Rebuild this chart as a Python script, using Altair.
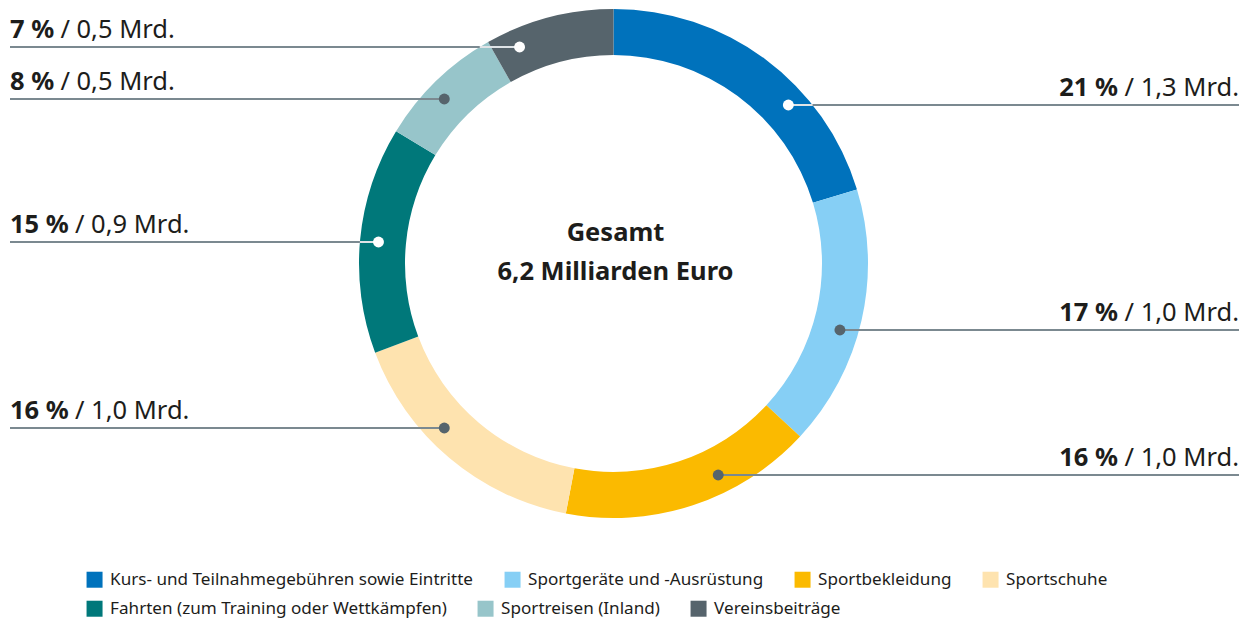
import math
import altair as alt
import pandas as pd

# ---------------- data ----------------
categories = [
    "Kurs- und Teilnahmegebühren sowie Eintritte",
    "Sportgeräte und -Ausrüstung",
    "Sportbekleidung",
    "Sportschuhe",
    "Fahrten (zum Training oder Wettkämpfen)",
    "Sportreisen (Inland)",
    "Vereinsbeiträge",
]
# slice sizes as read from the ring (degrees -> %)
shares = [20.3, 16.6, 16.1, 16.3, 14.4, 8.1, 8.2]
pct_labels = ["21 %", "17 %", "16 %", "16 %", "15 %", "8 %", "7 %"]
mrd_labels = ["1,3", "1,0", "1,0", "1,0", "0,9", "0,5", "0,5"]
colors = ["#0072BC", "#86CFF5", "#FBBA00", "#FEE3AF", "#00787A", "#97C5CA", "#56646C"]
center_text = "Gesamt\n6,2 Milliarden Euro"

# ---------------- layout ----------------
W, H = 1233, 614
CX, CY = 605.5, 255.5
R_OUT, R_IN, R_DOT = 254.5, 208.5, 236.0
leader_y = [97, 322, 467, 420, 234, 91, 39]
side = ["right", "right", "right", "left", "left", "left", "left"]
dark_slice = [True, False, False, False, True, False, True]
LEFT_X, RIGHT_X = 2, 1231
FS = 25.5
LINE = "#7b8990"
DOT_DARK = "#56646C"
TEXT = "#1d1d1b"
FONT = "Noto Sans"

total = sum(shares)
rows = []
acc = 0.0
for i, c in enumerate(categories):
    start, end = acc, acc + shares[i]
    acc = end
    ly = leader_y[i]
    dy = ly - CY
    sgn = 1 if side[i] == "right" else -1
    dot_x = CX + sgn * math.sqrt(max(R_DOT ** 2 - dy ** 2, 0))
    ring_x = CX + sgn * math.sqrt(max(R_OUT ** 2 - dy ** 2, 0))
    end_x = RIGHT_X if sgn > 0 else LEFT_X
    ndig = len(pct_labels[i].split(" ")[0])
    bold_w = (0.572 * ndig + 0.26 + 0.87) * FS
    norm_w = 4.47 * FS
    rows.append(dict(
        cat=c, start=start, end=end, ly=ly, dot_x=dot_x, ring_x=ring_x, end_x=end_x,
        side=side[i],
        dot_col="#ffffff" if dark_slice[i] else DOT_DARK,
        seg_col="#dfe4e7" if dark_slice[i] else LINE,
        pct=pct_labels[i], norm="/ " + mrd_labels[i] + " Mrd.",
        bold_x=(RIGHT_X - norm_w - 7) if sgn > 0 else LEFT_X,
        norm_x=RIGHT_X if sgn > 0 else LEFT_X + bold_w + 7,
    ))
df = pd.DataFrame(rows)

xs = alt.Scale(domain=[0, W], nice=False, zero=False)
ys = alt.Scale(domain=[0, H], nice=False, zero=False, reverse=True)
ts = alt.Scale(domain=[0, total], range=[0, 2 * math.pi])


def legend(y):
    return alt.Legend(
        orient="none", legendX=78, legendY=y, direction="horizontal", title=None,
        symbolType="square", symbolSize=256, symbolStrokeWidth=0, labelFont=FONT,
        labelFontSize=17.1, labelColor=TEXT, labelOffset=7, columnPadding=30,
        labelLimit=600, padding=0,
    )


def arcs(part, dom, rng, ly):
    return alt.Chart(part).mark_arc(innerRadius=R_IN, outerRadius=R_OUT).encode(
        x=alt.value(CX), y=alt.value(CY),
        theta=alt.Theta("start:Q", scale=ts, stack=None),
        theta2="end:Q",
        color=alt.Color("cat:N", scale=alt.Scale(domain=dom, range=rng), legend=legend(ly)),
    )


arcs1 = arcs(df.iloc[:4], categories[:4], colors[:4], 563)
arcs2 = arcs(df.iloc[4:], categories[4:], colors[4:], 592)

base = alt.Chart(df)
lines = base.mark_rule(color=LINE, strokeWidth=2).encode(
    x=alt.X("dot_x:Q", scale=xs, axis=None), x2="end_x:Q",
    y=alt.Y("ly:Q", scale=ys, axis=None),
)
inner = base.mark_rule(strokeWidth=2).encode(
    x=alt.X("dot_x:Q", scale=xs, axis=None), x2="ring_x:Q",
    y=alt.Y("ly:Q", scale=ys, axis=None),
    stroke=alt.Stroke("seg_col:N", scale=None),
)
dots = base.mark_point(filled=True, size=120, opacity=1, strokeWidth=0).encode(
    x=alt.X("dot_x:Q", scale=xs, axis=None),
    y=alt.Y("ly:Q", scale=ys, axis=None),
    fill=alt.Fill("dot_col:N", scale=None),
)

right = base.transform_filter(alt.datum.side == "right")
left = base.transform_filter(alt.datum.side == "left")

def txt(src, field, xf, align, weight):
    return src.mark_text(align=align, baseline="alphabetic", dy=-9, font=FONT,
                         fontSize=FS, fontWeight=weight, color=TEXT).encode(
        x=alt.X(xf + ":Q", scale=xs, axis=None),
        y=alt.Y("ly:Q", scale=ys, axis=None),
        text=field + ":N",
    )

labels = [
    txt(right, "pct", "bold_x", "right", "bold"),
    txt(right, "norm", "norm_x", "right", "normal"),
    txt(left, "pct", "bold_x", "left", "bold"),
    txt(left, "norm", "norm_x", "left", "normal"),
]

center = alt.Chart(pd.DataFrame({"t": [center_text]})).mark_text(
    align="center", baseline="alphabetic", lineBreak="\n", lineHeight=39,
    font=FONT, fontSize=25.5, fontWeight="bold", color=TEXT,
).encode(x=alt.value(CX + 2), y=alt.value(CY - 22.5), text="t:N")

chart = alt.layer(arcs1, arcs2, lines, inner, dots, *labels, center).resolve_scale(
    color="independent"
).properties(
    width=W, height=H, padding=0, autosize=alt.AutoSizeParams(type="none"),
    background="#ffffff",
).configure(font=FONT).configure_view(strokeWidth=0, strokeOpacity=0)

chart.save("out.html", embed_options={"renderer": "svg", "actions": False})
